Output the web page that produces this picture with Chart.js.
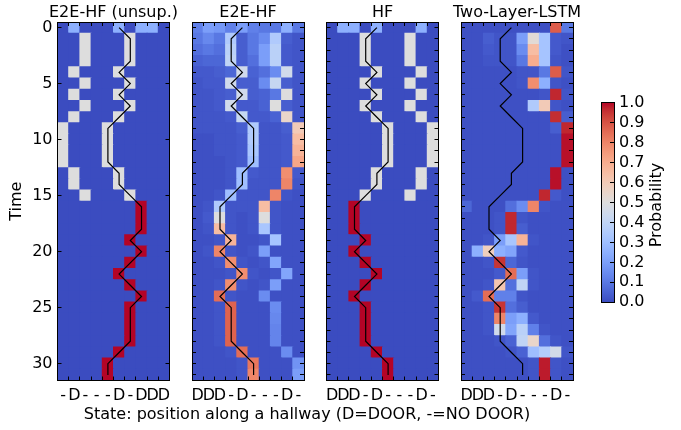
<!DOCTYPE html>
<html><head><meta charset="utf-8">
<script src="https://cdn.jsdelivr.net/npm/chart.js@4"></script>
<style>
html,body{margin:0;padding:0;background:#fff;}
#wrap{position:relative;width:681px;height:430px;overflow:hidden;background:#fff;}
canvas{position:absolute;left:0;top:0;}
</style></head>
<body><div id="wrap">
<canvas id="p0" width="681" height="430"></canvas>
<canvas id="p1" width="681" height="430"></canvas>
<canvas id="p2" width="681" height="430"></canvas>
<canvas id="p3" width="681" height="430"></canvas>
<canvas id="cb" width="681" height="430"></canvas>
<canvas id="xl" width="681" height="430"></canvas>
</div>
<script>
// ---------------- data ----------------
const panelTitles = ['E2E-HF (unsup.)', 'E2E-HF', 'HF', 'Two-Layer-LSTM'];
const positionLabelsUnsup = ['-','D','-','-','-','D','-','D','D','D'];
const positionLabels = ['D','D','D','-','D','-','-','-','D','-'];
const timeTicks = [0, 5, 10, 15, 20, 25, 30];
const colorbarTicks = [0.0, 0.1, 0.2, 0.3, 0.4, 0.5, 0.6, 0.7, 0.8, 0.9, 1.0];

// true position per time step (black line)
const trueTrajUnsup = [5,6,6,6,5,6,5,6,5,4,4,4,4,5,5,6,7,7,7,6,7,6,5,6,7,6,6,6,6,5,4,4];
const trueTraj      = [4,3,3,3,4,3,4,3,4,5,5,5,5,4,4,3,2,2,2,3,2,3,4,3,2,3,3,3,3,4,5,5];

const probUnsup = [
[0,.25,0,0,0,.25,0,.25,.25,0],
[0,0,.5,0,0,0,.5,0,0,0],
[0,0,.5,0,0,0,.5,0,0,0],
[0,0,.5,0,0,0,.5,0,0,0],
[0,.5,0,0,0,.5,0,0,0,0],
[0,0,.5,0,0,0,.5,0,0,0],
[0,.5,0,0,0,.5,0,0,0,0],
[0,0,.5,0,0,0,.5,0,0,0],
[0,.5,0,0,0,.5,0,0,0,0],
[.5,0,0,0,.5,0,0,0,0,0],
[.5,0,0,0,.5,0,0,0,0,0],
[.5,0,0,0,.5,0,0,0,0,0],
[.5,0,0,0,.5,0,0,0,0,0],
[0,.5,0,0,0,.5,0,0,0,0],
[0,.5,0,0,0,.5,0,0,0,0],
[0,0,.5,0,0,0,.5,0,0,0],
[0,0,0,0,0,0,0,1,0,0],
[0,0,0,0,0,0,0,1,0,0],
[0,0,0,0,0,0,0,1,0,0],
[0,0,0,0,0,0,1,0,0,0],
[0,0,0,0,0,0,0,1,0,0],
[0,0,0,0,0,0,1,0,0,0],
[0,0,0,0,0,1,0,0,0,0],
[0,0,0,0,0,0,1,0,0,0],
[0,0,0,0,0,0,0,1,0,0],
[0,0,0,0,0,0,1,0,0,0],
[0,0,0,0,0,0,1,0,0,0],
[0,0,0,0,0,0,1,0,0,0],
[0,0,0,0,0,0,1,0,0,0],
[0,0,0,0,0,1,0,0,0,0],
[0,0,0,0,1,0,0,0,0,0],
[0,0,0,0,1,0,0,0,0,0]
];

const probE2E = [
[.12,.2,.18,.12,.2,.12,.1,.1,.25,.1],
[.1,.14,.1,.35,.04,.1,.15,.35,.04,.02],
[.08,.1,.08,.38,.04,.1,.2,.38,.03,.02],
[.05,.06,.06,.4,.04,.08,.2,.38,.03,.02],
[.03,.03,.04,.06,.45,.05,.08,.15,.45,.02],
[.02,.03,.03,.45,.04,.04,.15,.42,.04,.02],
[.02,.02,.03,.04,.45,.04,.05,.1,.5,.02],
[.02,.02,.03,.45,.03,.03,.05,.5,.04,.02],
[.02,.02,.02,.03,.42,.03,.03,.05,.55,.02],
[.02,.02,.02,.02,.04,.35,.02,.02,.04,.6],
[.01,.01,.02,.02,.03,.35,.02,.02,.03,.65],
[.01,.01,.02,.02,.03,.33,.02,.02,.03,.68],
[.01,.01,.01,.02,.03,.3,.02,.02,.03,.72],
[.01,.01,.01,.02,.3,.03,.02,.02,.78,.03],
[.01,.01,.01,.02,.3,.02,.02,.02,.8,.02],
[.01,.01,.02,.3,.02,.02,.02,.8,.02,.01],
[.01,.02,.35,.02,.02,.02,.65,.02,.01,.01],
[.01,.03,.5,.02,.01,.02,.5,.02,.01,.01],
[.01,.02,.65,.02,.01,.02,.33,.02,.01,.01],
[.01,.01,.02,.68,.01,.01,.02,.32,.01,.01],
[.01,.02,.8,.02,.01,.02,.2,.01,.01,.01],
[.01,.01,.02,.78,.02,.01,.02,.22,.01,.01],
[.01,.01,.01,.02,.78,.02,.01,.02,.22,.01],
[.01,.01,.02,.78,.02,.01,.02,.2,.01,.01],
[.01,.01,.85,.02,.01,.01,.15,.01,.01,.01],
[.01,.01,.02,.87,.01,.01,.01,.15,.01,.01],
[.01,.01,.02,.87,.01,.01,.01,.14,.01,.01],
[.01,.01,.02,.87,.01,.01,.01,.13,.01,.01],
[.01,.01,.02,.87,.01,.01,.01,.13,.01,.01],
[.01,.01,.01,.02,.85,.01,.01,.01,.15,.01],
[.01,.01,.01,.01,.02,.83,.01,.01,.01,.17],
[.01,.01,.01,.01,.02,.8,.01,.01,.01,.2]
];

const probHF = [
[0,.25,.25,0,.25,0,0,0,.25,0],
[0,0,0,.5,0,0,0,.5,0,0],
[0,0,0,.5,0,0,0,.5,0,0],
[0,0,0,.5,0,0,0,.5,0,0],
[0,0,0,0,.5,0,0,0,.5,0],
[0,0,0,.5,0,0,0,.5,0,0],
[0,0,0,0,.5,0,0,0,.5,0],
[0,0,0,.5,0,0,0,.5,0,0],
[0,0,0,0,.5,0,0,0,.5,0],
[0,0,0,0,0,.5,0,0,0,.5],
[0,0,0,0,0,.5,0,0,0,.5],
[0,0,0,0,0,.5,0,0,0,.5],
[0,0,0,0,0,.5,0,0,0,.5],
[0,0,0,0,.5,0,0,0,.5,0],
[0,0,0,0,.5,0,0,0,.5,0],
[0,0,0,.5,0,0,0,.5,0,0],
[0,0,1,0,0,0,0,0,0,0],
[0,0,1,0,0,0,0,0,0,0],
[0,0,1,0,0,0,0,0,0,0],
[0,0,0,1,0,0,0,0,0,0],
[0,0,1,0,0,0,0,0,0,0],
[0,0,0,1,0,0,0,0,0,0],
[0,0,0,0,1,0,0,0,0,0],
[0,0,0,1,0,0,0,0,0,0],
[0,0,1,0,0,0,0,0,0,0],
[0,0,0,1,0,0,0,0,0,0],
[0,0,0,1,0,0,0,0,0,0],
[0,0,0,1,0,0,0,0,0,0],
[0,0,0,1,0,0,0,0,0,0],
[0,0,0,0,1,0,0,0,0,0],
[0,0,0,0,0,1,0,0,0,0],
[0,0,0,0,0,1,0,0,0,0]
];

const probLSTM = [
[.01,.01,.01,.01,.01,.01,.01,.01,.88,.1],
[.01,.01,.04,.02,.02,.2,.52,.32,.03,.02],
[.01,.01,.03,.02,.02,.15,.65,.32,.03,.01],
[.01,.01,.02,.02,.02,.1,.7,.32,.02,.01],
[.01,.01,.01,.01,.01,.02,.02,.1,.88,.02],
[.01,.01,.01,.01,.01,.02,.78,.25,.02,.01],
[.01,.01,.01,.01,.01,.01,.01,.02,.97,.02],
[.01,.01,.01,.01,.01,.01,.35,.6,.02,.01],
[.01,.01,.01,.01,.01,.01,.01,.01,.96,.04],
[.01,.01,.01,.01,.01,.01,.01,.01,.04,.97],
[.01,.01,.01,.01,.01,.01,.01,.01,.01,.99],
[.01,.01,.01,.01,.01,.01,.01,.01,.01,.99],
[.01,.01,.01,.01,.01,.01,.01,.01,.01,.99],
[.01,.01,.01,.01,.01,.01,.01,.01,.99,.01],
[.01,.01,.01,.01,.01,.01,.01,.01,.99,.01],
[.01,.01,.01,.01,.01,.01,.01,.97,.03,.01],
[.06,.01,.01,.01,.08,.15,.8,.02,.01,.01],
[.01,.01,.01,.02,.97,.02,.01,.01,.01,.01],
[.01,.01,.01,.02,.97,.04,.01,.01,.01,.01],
[.01,.01,.02,.2,.33,.68,.02,.01,.01,.01],
[.01,.25,.58,.25,.22,.03,.01,.01,.01,.01],
[.01,.01,.02,.95,.06,.02,.01,.01,.01,.01],
[.01,.01,.01,.03,.85,.2,.02,.01,.01,.01],
[.01,.01,.02,.62,.08,.4,.02,.01,.01,.01],
[.01,.03,.85,.12,.12,.02,.01,.01,.01,.01],
[.01,.01,.02,.95,.08,.04,.01,.01,.01,.01],
[.01,.01,.02,.8,.2,.25,.03,.01,.01,.01],
[.01,.01,.02,.45,.22,.38,.12,.02,.01,.01],
[.01,.01,.01,.02,.05,.4,.55,.08,.02,.01],
[.01,.01,.01,.01,.02,.05,.3,.36,.46,.02],
[.01,.01,.01,.01,.01,.01,.02,.98,.02,.01],
[.01,.01,.01,.01,.01,.01,.02,.98,.02,.01]
];

// ---------------- style / layout ----------------
const FONT = 'DejaVu Sans';
const FS = 16;
Chart.defaults.font.family = FONT;
Chart.defaults.font.size = FS;
Chart.defaults.color = '#000';

const W = 681, H = 430;
const PANEL_LEFT = [57.5, 192, 326.5, 461];
const PANEL_W = 112;
const SIDE = 57.5;            // width of the side boxes left/right of each panel
const AREA_BOTTOM = 380.5;
const XAXIS_H = 30;

// matplotlib coolwarm colormap (33 evenly spaced stops)
const COOLWARM = [
[59,76,192],[68,90,204],[77,104,215],[87,117,225],[98,130,234],[108,142,241],[119,154,247],[130,165,251],
[141,176,254],[152,185,255],[163,194,255],[174,201,253],[184,208,249],[194,213,244],[204,217,238],[213,219,230],
[221,221,221],[229,216,209],[236,211,197],[241,204,185],[245,196,173],[247,187,160],[247,177,148],[247,166,135],
[244,154,123],[241,141,111],[236,127,99],[229,112,88],[222,96,77],[213,80,66],[203,62,56],[192,40,47],[180,4,38]
];
function coolwarm(v) {
  v = Math.max(0, Math.min(1, v));
  const n = COOLWARM.length - 1;
  const f = v * n;
  const i = Math.min(n - 1, Math.floor(f));
  const t = f - i;
  const a = COOLWARM[i], b = COOLWARM[i + 1];
  const c = a.map((x, k) => Math.round(x + (b[k] - x) * t));
  return `rgb(${c[0]},${c[1]},${c[2]})`;
}

// inward tick marks + black frame, placed through the chart's scales
const framePlugin = {
  id: 'frame',
  afterDraw(chart, args, opts) {
    const {ctx, chartArea: a, scales} = chart;
    const TL = 4;
    const snap = v => Math.round(v - 0.5) + 0.5;
    ctx.save();
    ctx.strokeStyle = '#000';
    ctx.lineWidth = 1;
    ctx.beginPath();
    (opts.xMarks || []).forEach(v => {
      const x = snap(scales.x.getPixelForValue(v));
      ctx.moveTo(x, a.top); ctx.lineTo(x, a.top + TL);
      ctx.moveTo(x, a.bottom); ctx.lineTo(x, a.bottom - TL);
    });
    (opts.yMarks || []).forEach(v => {
      const y = snap(scales.y.getPixelForValue(v));
      if (opts.left !== false) { ctx.moveTo(a.left, y); ctx.lineTo(a.left + TL, y); }
      if (opts.right !== false) { ctx.moveTo(a.right, y); ctx.lineTo(a.right - TL, y); }
    });
    ctx.stroke();
    const x0 = snap(a.left), y0 = snap(a.top), x1 = snap(a.right), y1 = snap(a.bottom);
    ctx.strokeRect(x0, y0, x1 - x0, y1 - y0);
    ctx.restore();
  }
};

function makePanel(id, idx, probs, traj, xLabels) {
  const first = idx === 0;
  const L = PANEL_LEFT[idx], R = L + PANEL_W;
  const cells = [], colors = [];
  probs.forEach((row, r) => row.forEach((p, c) => {
    cells.push({x: c, y: [r - 0.5, r + 0.5]});
    colors.push(coolwarm(p));
  }));
  const line = traj.map((c, r) => ({x: c, y: r}));
  const nRows = probs.length, nCols = xLabels.length;
  const rowMarks = probs.map((_, r) => r);
  const colEdges = xLabels.slice(1).map((_, i) => i + 0.5);
  return new Chart(document.getElementById(id), {
    type: 'bar',
    data: {
      datasets: [
        {type: 'line', data: line, borderColor: '#000', borderWidth: 1.2, pointRadius: 0,
         tension: 0, fill: false, order: 0},
        {type: 'bar', data: cells, backgroundColor: colors, borderWidth: 0,
         barPercentage: 1, categoryPercentage: 1, inflateAmount: 0.5, order: 1}
      ]
    },
    options: {
      responsive: false, animation: false, devicePixelRatio: 1,
      events: [],
      layout: {padding: {left: L - SIDE, right: W - R - SIDE, top: 0, bottom: H - AREA_BOTTOM - XAXIS_H}},
      plugins: {
        legend: {display: false}, tooltip: {enabled: false},
        title: {display: true, text: panelTitles[idx], color: '#000',
                font: {size: FS, weight: 'normal'}, padding: {top: 2.9, bottom: -0.1}},
        frame: {xMarks: colEdges, yMarks: first ? timeTicks : rowMarks}
      },
      scales: {
        x: {
          type: 'linear', min: -0.5, max: nCols - 0.5, offset: false,
          grid: {display: false, drawTicks: false}, border: {display: false},
          afterBuildTicks: s => { s.ticks = xLabels.map((_, i) => ({value: i})); },
          ticks: {autoSkip: false, maxRotation: 0, minRotation: 0, padding: 6, color: '#000',
                  callback: (v, i) => xLabels[i]},
          afterFit: s => { s.height = XAXIS_H; s.paddingLeft = 0; s.paddingRight = 0; }
        },
        y: {
          type: 'linear', position: 'left', min: -0.5, max: nRows - 0.5, reverse: true,
          grid: {display: false, drawTicks: false}, border: {display: false},
          afterBuildTicks: s => { s.ticks = timeTicks.map(v => ({value: v})); },
          ticks: {display: first, autoSkip: false, padding: 5, color: '#000', callback: v => String(v)},
          title: {display: first, text: 'Time', color: '#000', font: {size: FS}, padding: {top: 7.4, bottom: 0}},
          afterFit: s => { s.width = SIDE; s.paddingTop = 0; s.paddingBottom = 0; }
        },
        yr: {
          type: 'linear', position: 'right', min: 0, max: 1,
          grid: {display: false, drawTicks: false}, border: {display: false},
          ticks: {display: false},
          afterFit: s => { s.width = SIDE; s.paddingTop = 0; s.paddingBottom = 0; }
        }
      }
    },
    plugins: [framePlugin]
  });
}

makePanel('p0', 0, probUnsup, trueTrajUnsup, positionLabelsUnsup);
makePanel('p1', 1, probE2E, trueTraj, positionLabels);
makePanel('p2', 2, probHF, trueTraj, positionLabels);
makePanel('p3', 3, probLSTM, trueTraj, positionLabels);

// ---------------- colorbar ----------------
const CB_LEFT = 601, CB_RIGHT = 614, CB_TOP = 102.7, CB_BOTTOM = 302.3, CB_AXIS_W = 60;
const cbLabelPlugin = {
  id: 'cbLabel',
  afterDraw(chart) {
    const c = chart.ctx, a = chart.chartArea;
    c.save();
    c.translate(a.right + 43, (a.top + a.bottom) / 2 + 2.5);
    c.rotate(-Math.PI / 2);
    c.font = `${FS}px "${FONT}"`;
    c.fillStyle = '#000';
    c.textAlign = 'center';
    c.textBaseline = 'middle';
    c.fillText('Probability', 0, 0);
    c.restore();
  }
};
new Chart(document.getElementById('cb'), {
  type: 'bar',
  data: {
    labels: [''],
    datasets: [{
      data: [[colorbarTicks[0], colorbarTicks[colorbarTicks.length - 1]]],
      borderWidth: 0, barPercentage: 1, categoryPercentage: 1,
      backgroundColor: ctx => {
        const chart = ctx.chart;
        if (!chart.chartArea) return 'rgb(59,76,192)';
        const y = chart.scales.y;
        const g = chart.ctx.createLinearGradient(0, y.getPixelForValue(0), 0, y.getPixelForValue(1));
        COOLWARM.forEach((c, i) => g.addColorStop(i / (COOLWARM.length - 1), `rgb(${c[0]},${c[1]},${c[2]})`));
        return g;
      }
    }]
  },
  options: {
    responsive: false, animation: false, devicePixelRatio: 1, events: [],
    layout: {padding: {left: CB_LEFT, right: W - CB_RIGHT - CB_AXIS_W, top: CB_TOP, bottom: H - CB_BOTTOM}},
    plugins: {legend: {display: false}, tooltip: {enabled: false},
              frame: {yMarks: colorbarTicks, left: false, right: true}},
    scales: {
      x: {display: false},
      y: {
        position: 'right', min: 0, max: 1,
        grid: {display: false, drawTicks: false}, border: {display: false},
        afterBuildTicks: s => { s.ticks = colorbarTicks.map(v => ({value: v})); },
        ticks: {padding: 5, color: '#000', autoSkip: false, callback: v => Number(v).toFixed(1)},
        afterFit: s => { s.width = CB_AXIS_W; s.paddingTop = 0; s.paddingBottom = 0; }
      }
    }
  },
  plugins: [framePlugin, cbLabelPlugin]
});

// ---------------- shared x-axis label ----------------
new Chart(document.getElementById('xl'), {
  type: 'bar',
  data: {labels: [], datasets: []},
  options: {
    responsive: false, animation: false, devicePixelRatio: 1, events: [],
    layout: {padding: {left: 0, right: 67, top: 0, bottom: 0}},
    scales: {x: {display: false}, y: {display: false}},
    plugins: {
      legend: {display: false}, tooltip: {enabled: false},
      title: {display: true, position: 'bottom', text: 'State: position along a hallway (D=DOOR, -=NO DOOR)',
              color: '#000', font: {size: FS, weight: 'normal'}, padding: {top: 0, bottom: 5.4}}
    }
  }
});
</script>
</body></html>
